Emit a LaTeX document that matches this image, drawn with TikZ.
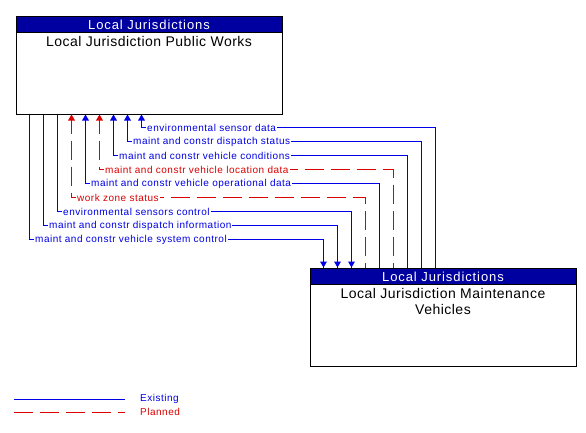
\documentclass[tikz,border=0pt]{standalone}
\usepackage{fontspec}
\setmainfont{Liberation Sans}
\newfontfamily\hdrfont[LetterSpace=7]{Liberation Sans}
\newfontfamily\titlefont[LetterSpace=3.5]{Liberation Sans}
\newfontfamily\flowfont[LetterSpace=5]{Liberation Sans}
\usepackage{tikz}
\usetikzlibrary{positioning,calc,arrows.meta}
\definecolor{hdrblue}{RGB}{0,0,160}
\definecolor{flowblue}{RGB}{0,0,230}
\definecolor{flowred}{RGB}{220,0,0}

\begin{document}
\begin{tikzpicture}[x=1pt,y=-1pt,
  entity/.style={draw=black,line width=1pt,minimum width=266pt,minimum height=98pt,inner sep=0pt,anchor=north west},
  header/.style={draw=black,fill=hdrblue,line width=1pt,text=white,minimum width=266pt,minimum height=16.7pt,inner sep=0pt,anchor=north,font=\hdrfont\fontsize{13}{15.7}\selectfont},
  title/.style={anchor=north,align=center,inner sep=0pt,font=\titlefont\fontsize{14}{16}\selectfont},
  planned/.style={draw=flowred,line width=1pt,dash pattern=on 19pt off 7pt},
  flowlbl/.style={anchor=west,fill=white,inner sep=1pt,font=\flowfont\fontsize{10}{12}\selectfont}]
\useasboundingbox (0,0) rectangle (586,432);

% the two jurisdictions
\node[entity] (pw) at (15.5,15.5) {};
\node[entity] (mv) at (309.5,267.5) {};

% existing flows
\foreach \o/\e/\d in {126/a/6,112/a/6,98/a/6,70/a/6,42/b/-6,28/b/-6,14/b/-6}
{
  \coordinate (a\o) at ([xshift=\o pt]pw.south west);
  \coordinate (b\o) at ([xshift=\o pt]mv.north west);
  \coordinate (c\o) at ($(b\o)+(0,-14-\o)$);
  \coordinate (d\o) at (a\o |- c\o);
  \fill[flowblue] ($(a\o)+(-0.5,0)$) rectangle ($(d\o)+(0.5,0.5)$);
  \fill[flowblue] ($(d\o)+(-0.5,-0.5)$) rectangle ($(c\o)+(0.5,0.5)$);
  \fill[flowblue] ($(c\o)+(-0.5,-0.5)$) rectangle ($(b\o)+(0.5,0)$);
  \fill[flowblue] (\e\o) -- ++(-3.5,\d) -- ++(7,0) -- cycle;
}

% planned flows
\foreach \o in {84,56}
{
  \coordinate (a\o) at ([xshift=\o pt]pw.south west);
  \coordinate (b\o) at ([xshift=\o pt]mv.north west);
  \coordinate (c\o) at ($(b\o)+(0,-14-\o)$);
  \coordinate (d\o) at (a\o |- c\o);
  \draw[planned] (a\o) |- (c\o) -- (b\o);
  \fill[flowred] (a\o) -- ++(-3.5,6) -- ++(7,0) -- cycle;
}

% legend lines
\coordinate (exa) at (14,399.5);
\coordinate (pla) at (14,412.5);
\fill[flowblue] ($(exa)+(0,-0.5)$) rectangle ($(exa)+(111,0.5)$);
\draw[planned] (pla) -- ++(111,0);

% texts
\node[header] (pwh) at (pw.north) {Local Jurisdictions};
\node[title,below=3pt of pwh] (pwt) {Local Jurisdiction Public Works};
\node[header] (mvh) at (mv.north) {Local Jurisdictions};
\node[title,below=3pt of mvh] (mvt) {Local Jurisdiction Maintenance\\Vehicles};

\foreach \o/\txt/\col in {126/environmental sensor data/flowblue,
    112/maint and constr dispatch status/flowblue,
    98/maint and constr vehicle conditions/flowblue,
    84/maint and constr vehicle location data/flowred,
    70/maint and constr vehicle operational data/flowblue,
    56/work zone status/flowred,
    42/environmental sensors control/flowblue,
    28/maint and constr dispatch information/flowblue,
    14/maint and constr vehicle system control/flowblue}
  \node[flowlbl,text=\col] (f\o) at ($(d\o)+(4.5,0)$) {\txt};

\node[anchor=west,inner sep=0pt,text=flowblue,font=\flowfont\fontsize{10}{12}\selectfont] (exlbl) at (140,399) {Existing};
\node[anchor=west,inner sep=0pt,text=flowred,font=\flowfont\fontsize{10}{12}\selectfont] (pllbl) at (140,412) {Planned};
\end{tikzpicture}
\end{document}
